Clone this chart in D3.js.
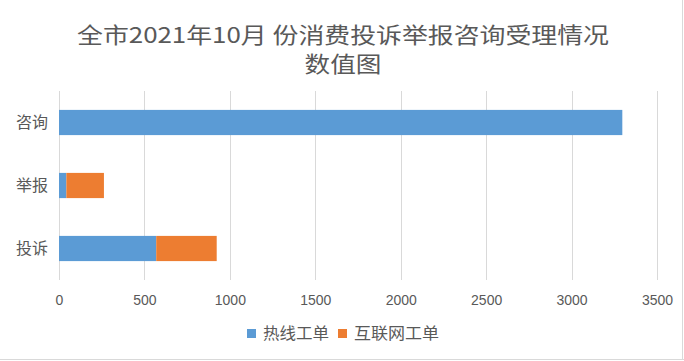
<!DOCTYPE html>
<html>
<head>
<meta charset="utf-8">
<script src="https://cdn.jsdelivr.net/npm/d3@7"></script>
<style>
html,body{margin:0;padding:0;background:#fff;}
svg{display:block;font-family:"Noto Sans CJK SC","Noto Sans",sans-serif;}
</style>
</head>
<body>
<svg id="chart" width="684" height="361"></svg>
<script>
const titleLines = ["全市2021年10月 份消费投诉举报咨询受理情况", "数值图"];
const categories = ["咨询", "举报", "投诉"];
const seriesNames = ["热线工单", "互联网工单"];
const hotline = [3297, 43, 569];
const internet = [0, 220, 354];
const xTicks = [0, 500, 1000, 1500, 2000, 2500, 3000, 3500];
const colors = ["#5b9bd5", "#ed7d31"];

const svg = d3.select("#chart");
const plot = {left: 59, right: 657, top: 91, bottom: 280};

// border
svg.append("line").attr("x1", 682.5).attr("x2", 682.5).attr("y1", 0).attr("y2", 359)
  .attr("stroke", "#d9d9d9").attr("stroke-width", 1);
svg.append("line").attr("x1", 0).attr("x2", 684).attr("y1", 359.5).attr("y2", 359.5)
  .attr("stroke", "#d9d9d9").attr("stroke-width", 1);

// title
const title = svg.append("g").attr("fill", "#595959").attr("font-size", 22).attr("text-anchor", "middle");
title.append("text").attr("x", 343).attr("y", 43).text(titleLines[0])
  .attr("textLength", 532).attr("lengthAdjust", "spacingAndGlyphs");
title.append("text").attr("x", 343).attr("y", 72).text(titleLines[1])
  .attr("textLength", 77).attr("lengthAdjust", "spacingAndGlyphs");

const x = d3.scaleLinear().domain([0, 3500]).range([plot.left, plot.right]);
const y = d3.scaleBand().domain(categories).range([plot.top, plot.bottom])
  .paddingInner(0.6).paddingOuter(0.3);

// gridlines
svg.append("g").selectAll("line").data(xTicks).join("line")
  .attr("x1", d => Math.round(x(d)) + 0.5).attr("x2", d => Math.round(x(d)) + 0.5)
  .attr("y1", plot.top).attr("y2", plot.bottom)
  .attr("stroke", "#d9d9d9").attr("stroke-width", 1);

// x axis labels
const xAxis = d3.axisBottom(x).tickValues(xTicks).tickSize(0).tickPadding(0).tickFormat(d3.format("d"));
const gx = svg.append("g").attr("transform", `translate(0,${plot.bottom})`).call(xAxis);
gx.select(".domain").remove();
gx.selectAll("text").attr("font-size", 14).attr("fill", "#595959")
  .attr("font-family", "'Liberation Sans','DejaVu Sans',sans-serif")
  .attr("dy", null).attr("y", 25);

// y axis labels
const yAxis = d3.axisLeft(y).tickSize(0).tickPadding(11);
const gy = svg.append("g").attr("transform", `translate(${plot.left},0)`).call(yAxis);
gy.select(".domain").remove();
gy.selectAll("text").attr("font-size", 16).attr("fill", "#595959")
  .attr("font-family", "'Noto Sans CJK SC',sans-serif");

// stacked bars
const rows = categories.map((c, i) => ({cat: c, "热线工单": hotline[i], "互联网工单": internet[i]}));
const stack = d3.stack().keys(seriesNames)(rows);
svg.append("g").selectAll("g").data(stack).join("g")
  .attr("fill", (d, i) => colors[i])
  .selectAll("rect").data(d => d).join("rect")
  .attr("x", d => x(d[0]))
  .attr("width", d => x(d[1]) - x(d[0]))
  .attr("y", d => y(d.data.cat))
  .attr("height", y.bandwidth());

// legend
const legendItems = [
  {name: seriesNames[0], color: colors[0], sx: 247, tx: 263, tw: 66},
  {name: seriesNames[1], color: colors[1], sx: 338, tx: 354, tw: 85}
];
const lg = svg.append("g");
lg.selectAll("rect").data(legendItems).join("rect")
  .attr("x", d => d.sx).attr("y", 329).attr("width", 9).attr("height", 9)
  .attr("fill", d => d.color);
lg.selectAll("text").data(legendItems).join("text")
  .attr("x", d => d.tx).attr("y", 339).attr("font-size", 16).attr("fill", "#595959")
  .attr("textLength", d => d.tw).attr("lengthAdjust", "spacingAndGlyphs")
  .text(d => d.name);
</script>
</body>
</html>
